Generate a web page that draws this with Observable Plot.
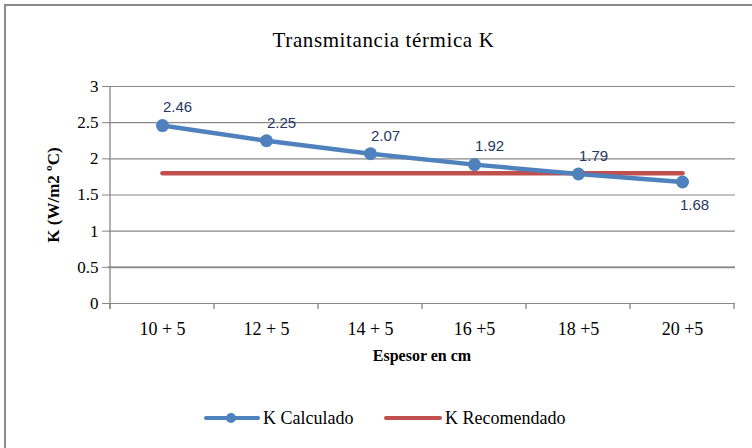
<!DOCTYPE html>
<html>
<head>
<meta charset="utf-8">
<script src="https://cdn.jsdelivr.net/npm/d3@7"></script>
<script src="https://cdn.jsdelivr.net/npm/@observablehq/plot@0.6"></script>
<style>
  html, body { margin: 0; padding: 0; background: #fff; }
  #wrap { position: relative; width: 752px; height: 448px; overflow: hidden; background: #fff; }
  #frame { position: absolute; left: 4px; top: 4px; width: 760px; height: 460px; border-left: 2px solid #8c8c8c; border-top: 2px solid #8c8c8c; box-sizing: border-box; }
  #title { position: absolute; left: 0; width: 767px; top: 28px; text-align: center; font: 21px "Liberation Serif", "Times New Roman", "DejaVu Serif", serif; letter-spacing: 0.6px; color: #000; }
  #chart { position: absolute; left: 0; top: 0; }
  #legend { position: absolute; left: 0; top: 407px; width: 752px; height: 22px; font: 18px "Liberation Serif", "Times New Roman", "DejaVu Serif", serif; }
  .lg { position: absolute; top: 0; display: flex; align-items: center; height: 22px; }
</style>
</head>
<body>
<div id="wrap">
  <div id="frame"></div>
  <div id="title">Transmitancia térmica K</div>
  <div id="chart"></div>
  <div id="legend">
    <div class="lg" style="left:203px"><svg width="58" height="22"><line x1="3" y1="11" x2="55" y2="11" stroke="#4f81bd" stroke-width="4" stroke-linecap="round"/><circle cx="28" cy="11" r="5" fill="#4f81bd"/></svg><span style="margin-left:2px">K Calculado</span></div>
    <div class="lg" style="left:383px"><svg width="60" height="22"><line x1="3" y1="11" x2="57" y2="11" stroke="#c0504d" stroke-width="4" stroke-linecap="round"/></svg><span style="margin-left:2px">K Recomendado</span></div>
  </div>
</div>
<script>
const categories = ["10 + 5", "12 + 5", "14 + 5", "16 +5", "18 +5", "20 +5"];
const kCalculado = [2.46, 2.25, 2.07, 1.92, 1.79, 1.68];
const kRecomendado = [1.8, 1.8, 1.8, 1.8, 1.8, 1.8];
const labelSide = ["above", "above", "above", "above", "above", "below"];
const yTicks = [0, 0.5, 1, 1.5, 2, 2.5, 3];

const calc = categories.map((c, i) => ({cat: c, k: kCalculado[i], side: labelSide[i]}));
const rec = categories.map((c, i) => ({cat: c, k: kRecomendado[i]}));

const gridColor = "#878787";
const serif = "'Liberation Serif', 'Times New Roman', 'DejaVu Serif', serif";
const sans = "'Liberation Sans', Arial, sans-serif";

function bandFrame(index, scales, values, dimensions) {
  const x = scales.x, y = scales.y;
  const g = d3.create("svg:g");
  const y0 = y(0);
  const bw = x.bandwidth();
  const bounds = categories.map(c => x(c)).concat([x(categories[categories.length - 1]) + bw]);
  for (const b of bounds) {
    g.append("line").attr("x1", b).attr("x2", b).attr("y1", y0).attr("y2", y0 + 6)
      .attr("stroke", gridColor).attr("stroke-width", 1.3);
  }
  g.append("line").attr("x1", bounds[0]).attr("x2", bounds[0])
    .attr("y1", y(3)).attr("y2", y0 + 6).attr("stroke", gridColor).attr("stroke-width", 1.3);
  return g.node();
}

const plot = Plot.plot({
  width: 752,
  height: 448,
  marginLeft: 108,
  marginRight: 17,
  marginTop: 86,
  marginBottom: 145,
  style: {background: "transparent", overflow: "visible", fontFamily: serif},
  x: {type: "band", domain: categories, padding: 0, label: null},
  y: {domain: [0, 3], label: null},
  marks: [
    Plot.gridY(yTicks, {stroke: gridColor, strokeOpacity: 1, strokeWidth: 1.2}),
    Plot.ruleY([0.5], {stroke: gridColor, strokeWidth: 1.6}),
    Plot.axisY(yTicks, {tickSize: 6, tickPadding: 4, stroke: gridColor, strokeOpacity: 1, tickFormat: d => String(d),
      fontFamily: serif, fontSize: 17, fill: "#000"}),
    Plot.axisX({tickSize: 0, tickPadding: 19, fontFamily: serif, fontSize: 18, fill: "#000"}),
    bandFrame,
    Plot.line(rec, {x: "cat", y: "k", stroke: "#c0504d", strokeWidth: 4.5}),
    Plot.line(calc, {x: "cat", y: "k", stroke: "#4f81bd", strokeWidth: 4.5}),
    Plot.dot(calc, {x: "cat", y: "k", r: 6.5, fill: "#4f81bd"}),
    Plot.text(calc.filter(d => d.side === "above"), {x: "cat", y: "k", text: d => d.k.toFixed(2), dx: 15, dy: -18,
      fontFamily: sans, fontSize: 15, fill: "#1f3864", style: "letter-spacing:1px"}),
    Plot.text(calc.filter(d => d.side === "below"), {x: "cat", y: "k", text: d => d.k.toFixed(2), dx: 12, dy: 23,
      fontFamily: sans, fontSize: 15, fill: "#1f3864"}),
    Plot.text(["Espesor en cm"], {frameAnchor: "bottom", dy: 57, text: d => d,
      fontFamily: serif, fontSize: 16, fontWeight: "bold", fill: "#000"}),
    Plot.text(["K (W/m2 ºC)"], {frameAnchor: "left", dx: -55, rotate: -90, textAnchor: "middle", text: d => d,
      fontFamily: serif, fontSize: 17, fontWeight: "bold", fill: "#000"})
  ]
});
document.getElementById("chart").appendChild(plot);
</script>
</body>
</html>
